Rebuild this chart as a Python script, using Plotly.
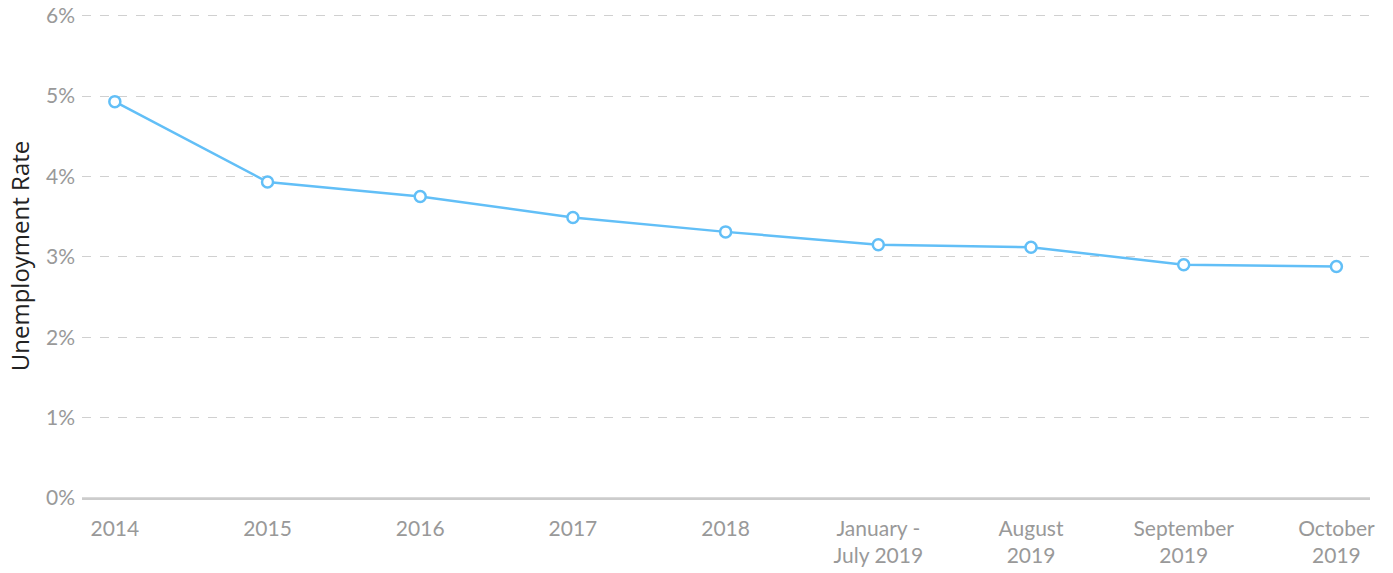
import plotly.graph_objects as go

categories = ["2014", "2015", "2016", "2017", "2018", "January -<br>July 2019",
              "August<br>2019", "September<br>2019", "October<br>2019"]
rates = [4.93, 3.93, 3.75, 3.49, 3.31, 3.15, 3.12, 2.90, 2.88]
y_ticks = [0, 1, 2, 3, 4, 5, 6]
y_tick_labels = ["0%", "1%", "2%", "3%", "4%", "5%", "6%"]

fig = go.Figure()
fig.add_trace(go.Scatter(
    x=list(range(len(categories))), y=rates, mode="lines+markers",
    line=dict(color="#62bff7", width=2.5),
    marker=dict(size=11, color="white", line=dict(color="#62bff7", width=2.5)),
    showlegend=False, hoverinfo="x+y",
))
fig.update_layout(
    width=1393, height=573,
    margin=dict(l=82, r=23, t=14, b=75),
    paper_bgcolor="white", plot_bgcolor="white",
    font=dict(family="Lato, sans-serif", color="#999999", size=21),
    xaxis=dict(
        tickmode="array", tickvals=list(range(len(categories))), ticktext=categories,
        range=[-0.215, 8.22], showgrid=False, zeroline=False, automargin=False,
        showline=True, linecolor="#cccccc", linewidth=1.5,
        ticks="", tickfont=dict(size=21, color="#999999"), ticklabelstandoff=11,
        ticklabeloverflow="allow",
    ),
    yaxis=dict(
        range=[0, 6.02], tickvals=y_ticks, ticktext=y_tick_labels, automargin=False,
        showgrid=True, gridcolor="#d0d0d0", griddash="dash", gridwidth=1.3,
        zeroline=False, showline=False, ticks="",
        tickfont=dict(size=21, color="#999999"), ticklabelstandoff=6,
        ticklabeloverflow="allow",
        title=dict(text="Unemployment Rate", font=dict(family="Open Sans, sans-serif", size=24, color="#222222"), standoff=9),
    ),
)
fig.add_shape(type="line", xref="paper", yref="y", x0=0, x1=1, y0=0, y1=0,
              line=dict(color="#cccccc", width=1.5))
fig.write_html("out.html", config={"displayModeBar": False},
               post_script="document.body.style.margin='0';document.body.style.overflow='hidden';")
